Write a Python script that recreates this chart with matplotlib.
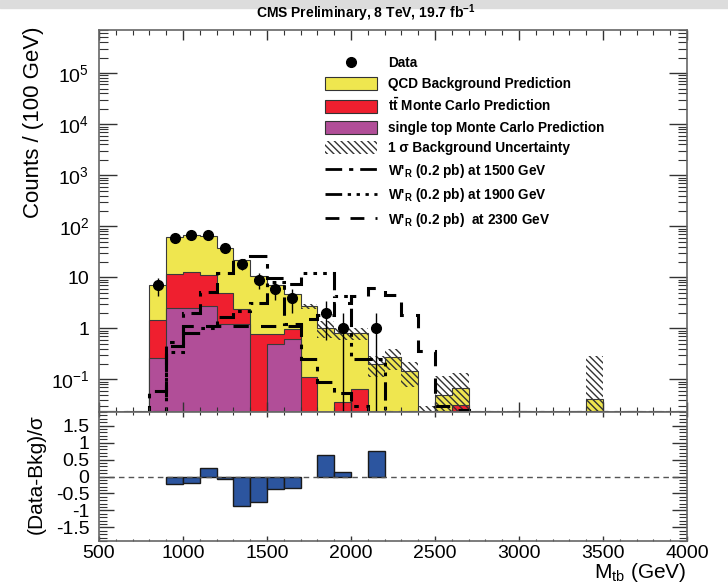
import numpy as np
import matplotlib
matplotlib.use("Agg")
import matplotlib.pyplot as plt
from matplotlib.patches import Patch, Rectangle
from matplotlib.lines import Line2D
from matplotlib.ticker import FixedLocator, FixedFormatter, MultipleLocator, NullFormatter

plt.rcParams['font.family'] = ['Liberation Sans', 'DejaVu Sans']
plt.rcParams['mathtext.fontset'] = 'custom'
plt.rcParams['mathtext.rm'] = 'Liberation Sans'
plt.rcParams['mathtext.it'] = 'Liberation Sans:italic'
plt.rcParams['mathtext.bf'] = 'Liberation Sans:bold'
plt.rcParams['mathtext.default'] = 'regular'
plt.rcParams['hatch.linewidth'] = 1.0

# Binning: 100 GeV bins from 500 to 4000 GeV
bin_edges = np.arange(500, 4001, 100)

# Background stack per bin (500, 600, ..., 3900)
single_top = [0, 0, 0, 0.26, 2.54, 2.54, 2.75, 1.2, 1.2, 0,
              0.49, 0.61, 0, 0, 0, 0, 0, 0, 0, 0,
              0, 0, 0, 0, 0, 0, 0, 0, 0, 0,
              0, 0, 0, 0, 0]
ttbar = [0, 0, 0, 1.17, 8.96, 10.0, 8.25, 3.8, 1.16, 0.76,
         0.27, 0.35, 0.11, 0, 0.036, 0.066, 0, 0, 0, 0,
         0, 0.032, 0, 0, 0, 0, 0, 0, 0, 0,
         0, 0, 0, 0, 0]
qcd = [0, 0, 0, 5.6, 49.5, 53.5, 53, 33, 19.6, 9.8,
       6.2, 3.8, 2.6, 1.03, 0.78, 0.75, 0.2, 0.27, 0.145, 0,
       0.05, 0.037, 0, 0, 0, 0, 0, 0, 0, 0.042,
       0, 0, 0, 0, 0]
# upper edge of the 1 sigma band (0 = not drawn)
unc_high = [0, 0, 0, 0, 0, 0, 0, 0, 0, 0,
            0, 0, 3.0, 1.4, 1.03, 1.03, 0.29, 0.39, 0.22, 0.03,
            0.117, 0.135, 0, 0, 0, 0, 0, 0, 0, 0.29,
            0, 0, 0, 0, 0]
data_counts = [0, 0, 0, 7, 58, 67, 66, 37, 18, 9,
               6, 4, 0, 2, 1, 0, 1, 0, 0, 0,
               0, 0, 0, 0, 0, 0, 0, 0, 0, 0,
               0, 0, 0, 0, 0]
# W'_R signal templates
w1500 = [0, 0, 0, 0.06, 0.55, 2.0, 5.1, 12, 22, 26,
         9.5, 1.2, 0.25, 0.09, 0.055, 0.03, 0, 0, 0, 0,
         0, 0, 0, 0, 0, 0, 0, 0, 0, 0,
         0, 0, 0, 0, 0]
w1900 = [0, 0, 0, 0, 0.35, 0.8, 1.0, 1.7, 2.2, 3.2,
         8, 7.3, 12.3, 12.3, 4.3, 0.25, 0.25, 0, 0, 0,
         0, 0, 0, 0, 0, 0, 0, 0, 0, 0,
         0, 0, 0, 0, 0]
w2300 = [0, 0, 0, 0, 0.45, 1.1, 1.1, 1.1, 1.1, 1.1,
         1.1, 1.1, 1.5, 1.8, 3.2, 4.3, 6.3, 4.6, 1.8, 0.36,
         0.03, 0.025, 0, 0, 0, 0, 0, 0, 0, 0,
         0, 0, 0, 0, 0]
# (Data-Bkg)/sigma pulls
pull = [0, 0, 0, 0, -0.21, -0.19, 0.25, -0.08, -0.86, -0.75,
        -0.37, -0.34, 0, 0.63, 0.14, 0, 0.76, 0, 0, 0,
        0, 0, 0, 0, 0, 0, 0, 0, 0, 0,
        0, 0, 0, 0, 0]

y_ticks = [0.1, 1, 10, 100, 1e3, 1e4, 1e5]
y_ticklabels = ["10$^{-1}$", "1", "10", "10$^{2}$", "10$^{3}$", "10$^{4}$", "10$^{5}$"]
r_ticks = [-1.5, -1, -0.5, 0, 0.5, 1, 1.5]
r_ticklabels = ["-1.5", "-1", "-0.5", "0", "0.5", "1", "1.5"]

colors = {"qcd": "#efe64f", "tt": "#ef1f2f", "st": "#b14e98", "pull": "#2c559f"}
ymin, ymax = 0.023, 7e5
floor = 1e-3
hatch = "\\\\\\\\\\"

centers = 0.5 * (bin_edges[:-1] + bin_edges[1:])
st = np.array(single_top)
tt = np.array(ttbar)
qc = np.array(qcd)
total = st + tt + qc

fig = plt.figure(figsize=(7.28, 5.86), dpi=100)
fig.patches.append(Rectangle((0, 1 - 8 / 586), 1, 8 / 586, transform=fig.transFigure,
                             color="#dcdcdc", zorder=0))
ax = fig.add_axes([99 / 728, 1 - 412 / 586, 588 / 728, 382 / 586])
ax2 = fig.add_axes([99 / 728, 1 - 541 / 586, 588 / 728, 129 / 586])

# stacked backgrounds
edge_kw = dict(edgecolor="#3a3a3a", linewidth=0.8, fill=True, baseline=floor)
ax.stairs(np.clip(total, floor, None), bin_edges, facecolor=colors["qcd"], **edge_kw)
ax.stairs(np.clip(st + tt, floor, None), bin_edges, facecolor=colors["tt"], **edge_kw)
ax.stairs(np.clip(st, floor, None), bin_edges, facecolor=colors["st"], **edge_kw)

# uncertainty band
up = np.array(unc_high)
m = up > 0
lo = np.clip(2 * total[m] - up[m], floor, None)
ax.bar(centers[m], up[m] - lo, bottom=lo, width=100, facecolor="none",
       edgecolor="#333333", linewidth=0, hatch=hatch)

# signals
ls_1500 = (0, (6, 2.5, 1.5, 2.5))
ls_1900 = (0, (6, 2, 1.2, 2, 1.2, 2, 1.2, 2))
ls_2300 = (0, (5, 4))
for w, ls in [(w1500, ls_1500), (w1900, ls_1900), (w2300, ls_2300)]:
    ax.stairs(np.clip(np.array(w), ymin, None), bin_edges, baseline=None,
              color="black", linewidth=2.2, linestyle=ls)

# data
d = np.array(data_counts, dtype=float)
md = d > 0
err = np.sqrt(d[md])
err_lo = np.minimum(err, d[md] - floor)
ax.errorbar(centers[md], d[md], yerr=[err_lo, err], fmt="o", color="black",
            markersize=7, elinewidth=1, capsize=0, zorder=5)

ax.set_yscale("log")
ax.set_xlim(500, 4000)
ax.set_ylim(ymin, ymax)
ax.yaxis.set_major_locator(FixedLocator(y_ticks))
ax.yaxis.set_major_formatter(FixedFormatter(y_ticklabels))
ax.yaxis.set_minor_locator(matplotlib.ticker.LogLocator(base=10, subs=np.arange(2, 10), numticks=20))
ax.yaxis.set_minor_formatter(NullFormatter())
ax.xaxis.set_major_locator(MultipleLocator(500))
ax.xaxis.set_minor_locator(MultipleLocator(100))
ax.tick_params(which="both", direction="in", top=True, right=True, labelbottom=False,
               color="#333333", labelsize=14, pad=7)
ax.tick_params(axis="y", which="major", length=13, width=1)
ax.tick_params(axis="y", which="minor", length=6.5, width=0.8)
ax.tick_params(axis="x", which="major", length=7, width=1)
ax.tick_params(axis="x", which="minor", length=3.6, width=0.8)

# legend
handles = [
    Line2D([], [], marker="o", color="black", ls="none", markersize=7),
    Patch(facecolor=colors["qcd"], edgecolor="#333333", linewidth=0.8),
    Patch(facecolor=colors["tt"], edgecolor="#333333", linewidth=0.8),
    Patch(facecolor=colors["st"], edgecolor="#333333", linewidth=0.8),
    Patch(facecolor="none", edgecolor="#333333", linewidth=0, hatch=hatch),
    Line2D([], [], color="black", lw=2, ls=ls_1500),
    Line2D([], [], color="black", lw=2, ls=ls_1900),
    Line2D([], [], color="black", lw=2, ls=ls_2300),
]
labels = [
    "Data",
    "QCD Background Prediction",
    "t$\\bar{t}$ Monte Carlo Prediction",
    "single top Monte Carlo Prediction",
    "1 σ Background Uncertainty",
    "W'$_{R}$ (0.2 pb) at 1500 GeV",
    "W'$_{R}$ (0.2 pb) at 1900 GeV",
    "W'$_{R}$ (0.2 pb)  at 2300 GeV",
]
fig.legend(handles, labels, loc="upper left", bbox_to_anchor=(325 / 728, 1 - 56 / 586),
           frameon=False, prop={"weight": "bold", "size": 9.8}, handlelength=3.8,
           handleheight=1.1, handletextpad=0.85, labelspacing=0.47, borderpad=0,
           borderaxespad=0)

# pull panel
pl = np.array(pull)
mp = pl != 0
ax2.bar(centers[mp], pl[mp], width=100, color=colors["pull"], edgecolor="#1a1a1a",
        linewidth=1)
ax2.axhline(0, color="#555555", ls=(0, (4, 3)), lw=1)
ax2.set_xlim(500, 4000)
ax2.set_ylim(-1.9, 1.9)
ax2.yaxis.set_major_locator(FixedLocator(r_ticks))
ax2.yaxis.set_major_formatter(FixedFormatter(r_ticklabels))
ax2.yaxis.set_minor_locator(MultipleLocator(0.1))
ax2.xaxis.set_major_locator(MultipleLocator(500))
ax2.xaxis.set_minor_locator(MultipleLocator(100))
ax2.tick_params(which="both", direction="in", top=True, right=True, color="#333333",
                labelsize=14)
ax2.tick_params(axis="y", which="major", length=11, width=1, pad=7)
ax2.tick_params(axis="y", which="minor", length=5.5, width=0.8)
ax2.tick_params(axis="x", which="major", length=3.6, width=1, pad=3)
ax2.tick_params(axis="x", which="minor", length=1.8, width=0.8)

for a in (ax, ax2):
    for s in a.spines.values():
        s.set_color("#666666")
        s.set_linewidth(1.2)

fig.text(366 / 728, 1 - 18 / 586, "CMS Preliminary, 8 TeV, 19.7 fb$^{-1}$",
         ha="center", va="baseline", weight="bold", size=10)
fig.text(34 / 728, 1 - 122 / 586, "Counts / (100 GeV)", rotation=90,
         ha="center", va="center", size=16)
fig.text(36 / 728, 1 - 474 / 586, "(Data-Bkg)/σ", rotation=90,
         ha="center", va="center", size=15)
fig.text(686 / 728, 1 - 578 / 586, "M$_{tb}$ (GeV)", ha="right", va="baseline", size=15)

fig.savefig("out.png", dpi=100)
